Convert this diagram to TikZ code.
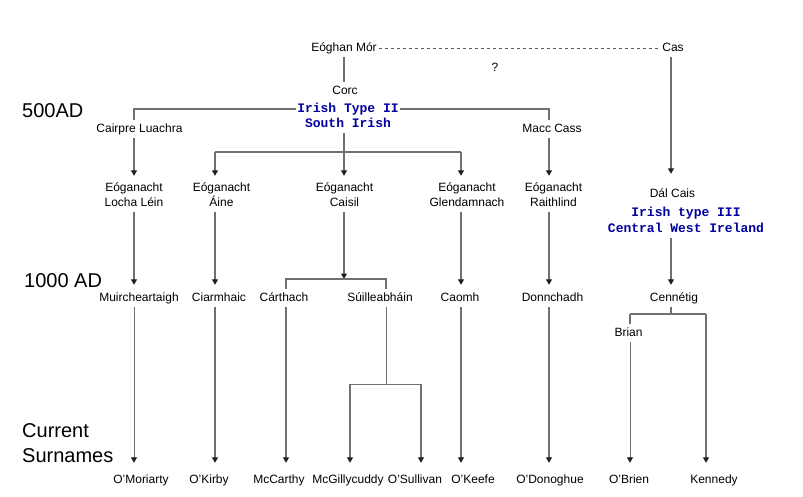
\documentclass[tikz,border=0pt]{standalone}
\usepackage{fontspec}
\setmainfont{Liberation Sans}
\newfontfamily\monob{Liberation Mono}
\usetikzlibrary{arrows.meta}
\definecolor{lncol}{HTML}{707070}
\definecolor{tipcol}{HTML}{202020}
\definecolor{typeblue}{HTML}{0000A0}
\begin{document}
\begin{tikzpicture}[x=1pt,y=-1pt,
  lbl/.style={font=\fontsize{12}{14}\selectfont, inner xsep=2pt, inner ysep=3pt, text height=9pt, text depth=3pt, anchor=base},
  era/.style={font=\fontsize{20}{24}\selectfont, inner sep=0pt, anchor=base west},
  typ/.style={font=\monob\bfseries\fontsize{13}{15}\selectfont, text=typeblue, inner xsep=1pt, inner ysep=3pt, text height=9pt, text depth=3pt, anchor=base},
  ln/.style={draw=lncol, line width=1.2pt},
  thinln/.style={line width=0.8pt},
  arr/.style={ln, -{Triangle[length=5.5pt,width=6pt,color=tipcol]}, shorten >=#1},
  arr/.default=0pt,
  dashln/.style={draw=lncol!80!black, line width=0.7pt, dash pattern=on 3.5pt off 2.5pt},
]
\useasboundingbox (0,0) rectangle (803,496);

% column and bar coordinates
\coordinate (cA) at (134,0);
\coordinate (cB) at (215,0);
\coordinate (cC) at (344,0);
\coordinate (cD) at (286,0);
\coordinate (cE) at (386,0);
\coordinate (cF) at (350,0);
\coordinate (cG) at (421,0);
\coordinate (cH) at (461,0);
\coordinate (cI) at (549,0);
\coordinate (cJ) at (671,0);
\coordinate (cK) at (630,0);
\coordinate (cL) at (706,0);
\coordinate (bar1) at (0,109);
\coordinate (bar2) at (0,152);
\coordinate (bar3) at (0,279);
\coordinate (bar4) at (0,384);
\coordinate (bar5) at (0,314);

% era labels
\node[era] (e500) at (22,117) {500AD};
\node[era] (e1000) at (24,287) {1000 AD};
\node[era] (ecur) at (22,437) {Current};
\node[era] (esur) at (22,462) {Surnames};

% top
\node[lbl] (eoghan) at (344,51) {Eóghan Mór};
\node[lbl] (cas) at (673,51) {Cas};
\node[lbl] (q) at (495,71) {?};
\node[lbl] (corc) at (345,94) {Corc};
\node[typ] (type2) at (348,112) {Irish Type II};
\node[typ] (type2s) at (348,127) {South Irish};
\node[lbl] (cairpre) at (139.5,132) {Cairpre Luachra};
\node[lbl] (macc) at (552,132) {Macc Cass};

% Eoganacht row
\node[lbl] (ll1) at (134,191) {Eóganacht};
\node[lbl] (ll2) at (134,206) {Locha Léin};
\node[lbl] (aine1) at (221.5,191) {Eóganacht};
\node[lbl] (aine2) at (221.5,206) {Áine};
\node[lbl] (cai1) at (344.5,191) {Eóganacht};
\node[lbl] (cai2) at (344.5,206) {Caisil};
\node[lbl] (glen1) at (467,191) {Eóganacht};
\node[lbl] (glen2) at (467,206) {Glendamnach};
\node[lbl] (rai1) at (553.5,191) {Eóganacht};
\node[lbl] (rai2) at (553.5,206) {Raithlind};
\node[lbl] (dal) at (672.5,197) {Dál Cais};
\node[typ] (type3) at (686,216) {Irish type III};
\node[typ] (cwi) at (686,232) {Central West Ireland};

% 1000 AD row
\node[lbl] (muir) at (139,301) {Muircheartaigh};
\node[lbl] (ciar) at (219,301) {Ciarmhaic};
\node[lbl] (carthach) at (284,301) {Cárthach};
\node[lbl] (suill) at (380,301) {Súilleabháin};
\node[lbl] (caomh) at (460,301) {Caomh};
\node[lbl] (donn) at (552.5,301) {Donnchadh};
\node[lbl] (cen) at (674,301) {Cennétig};
\node[lbl] (brian) at (628.5,336) {Brian};

% surnames
\node[lbl] (omor) at (141,483) {O'Moriarty};
\node[lbl] (okirby) at (209,483) {O'Kirby};
\node[lbl] (mccarthy) at (279,483) {McCarthy};
\node[lbl] (mcg) at (348,483) {McGillycuddy};
\node[lbl] (osul) at (415,483) {O'Sullivan};
\node[lbl] (okeefe) at (473,483) {O'Keefe};
\node[lbl] (odon) at (550,483) {O'Donoghue};
\node[lbl] (obrien) at (629,483) {O'Brien};
\node[lbl] (kennedy) at (714,483) {Kennedy};

% connectors: top
\draw[dashln] (eoghan.east) -- (cas.west);
\draw[ln] (eoghan.south -| cC) -- (corc.north -| cC);
\draw[ln] (type2.west |- bar1) -| (cairpre.north -| cA);
\draw[ln] (type2.east |- bar1) -| (macc.north -| cI);
\draw[arr=3pt] (cairpre.south -| cA) -- (ll1.north -| cA);
\draw[arr=3pt] (type2s.south -| cC) -- (cai1.north -| cC);
\draw[ln] (cB |- bar2) -- (cH |- bar2);
\draw[arr=3pt] (cB |- bar2) -- (aine1.north -| cB);
\draw[arr=3pt] (cH |- bar2) -- (glen1.north -| cH);
\draw[arr=3pt] (macc.south -| cI) -- (rai1.north -| cI);
\draw[arr=11pt] (cas.south -| cJ) -- (dal.north -| cJ);

% Eoganacht row to 1000 AD
\draw[arr=4pt] (ll2.south -| cA) -- (muir.north -| cA);
\draw[arr=4pt] (aine2.south -| cB) -- (ciar.north -| cB);
\draw[arr] (cai2.south -| cC) -- (cC |- bar3);
\draw[ln] (carthach.north -| cD) -- (cD |- bar3) -- (cE |- bar3) -- (suill.north -| cE);
\draw[arr=4pt] (glen2.south -| cH) -- (caomh.north -| cH);
\draw[arr=4pt] (rai2.south -| cI) -- (donn.north -| cI);
\draw[arr=4pt] (cwi.south -| cJ) -- (cen.north -| cJ);

% 1000 AD to surnames
\draw[arr=8pt, thinln] (muir.south -| cA) -- (omor.north -| cA);
\draw[arr=8pt] (ciar.south -| cB) -- (okirby.north -| cB);
\draw[arr=8pt] (carthach.south -| cD) -- (mccarthy.north -| cD);
\draw[ln, thinln] (suill.south -| cE) -- (cE |- bar4);
\draw[ln, thinln] (cF |- bar4) -- (cG |- bar4);
\draw[arr=8pt] (cF |- bar4) -- (mcg.north -| cF);
\draw[arr=8pt] (cG |- bar4) -- (osul.north -| cG);
\draw[arr=8pt] (caomh.south -| cH) -- (okeefe.north -| cH);
\draw[arr=8pt] (donn.south -| cI) -- (odon.north -| cI);
\draw[ln] (cen.south -| cJ) -- (cJ |- bar5);
\draw[ln] (cK |- bar5) -- (cL |- bar5);
\draw[ln] (cK |- bar5) -- (brian.north -| cK);
\draw[arr=8pt, thinln] (brian.south -| cK) -- (obrien.north -| cK);
\draw[arr=8pt] (cL |- bar5) -- (kennedy.north -| cL);
\end{tikzpicture}
\end{document}
